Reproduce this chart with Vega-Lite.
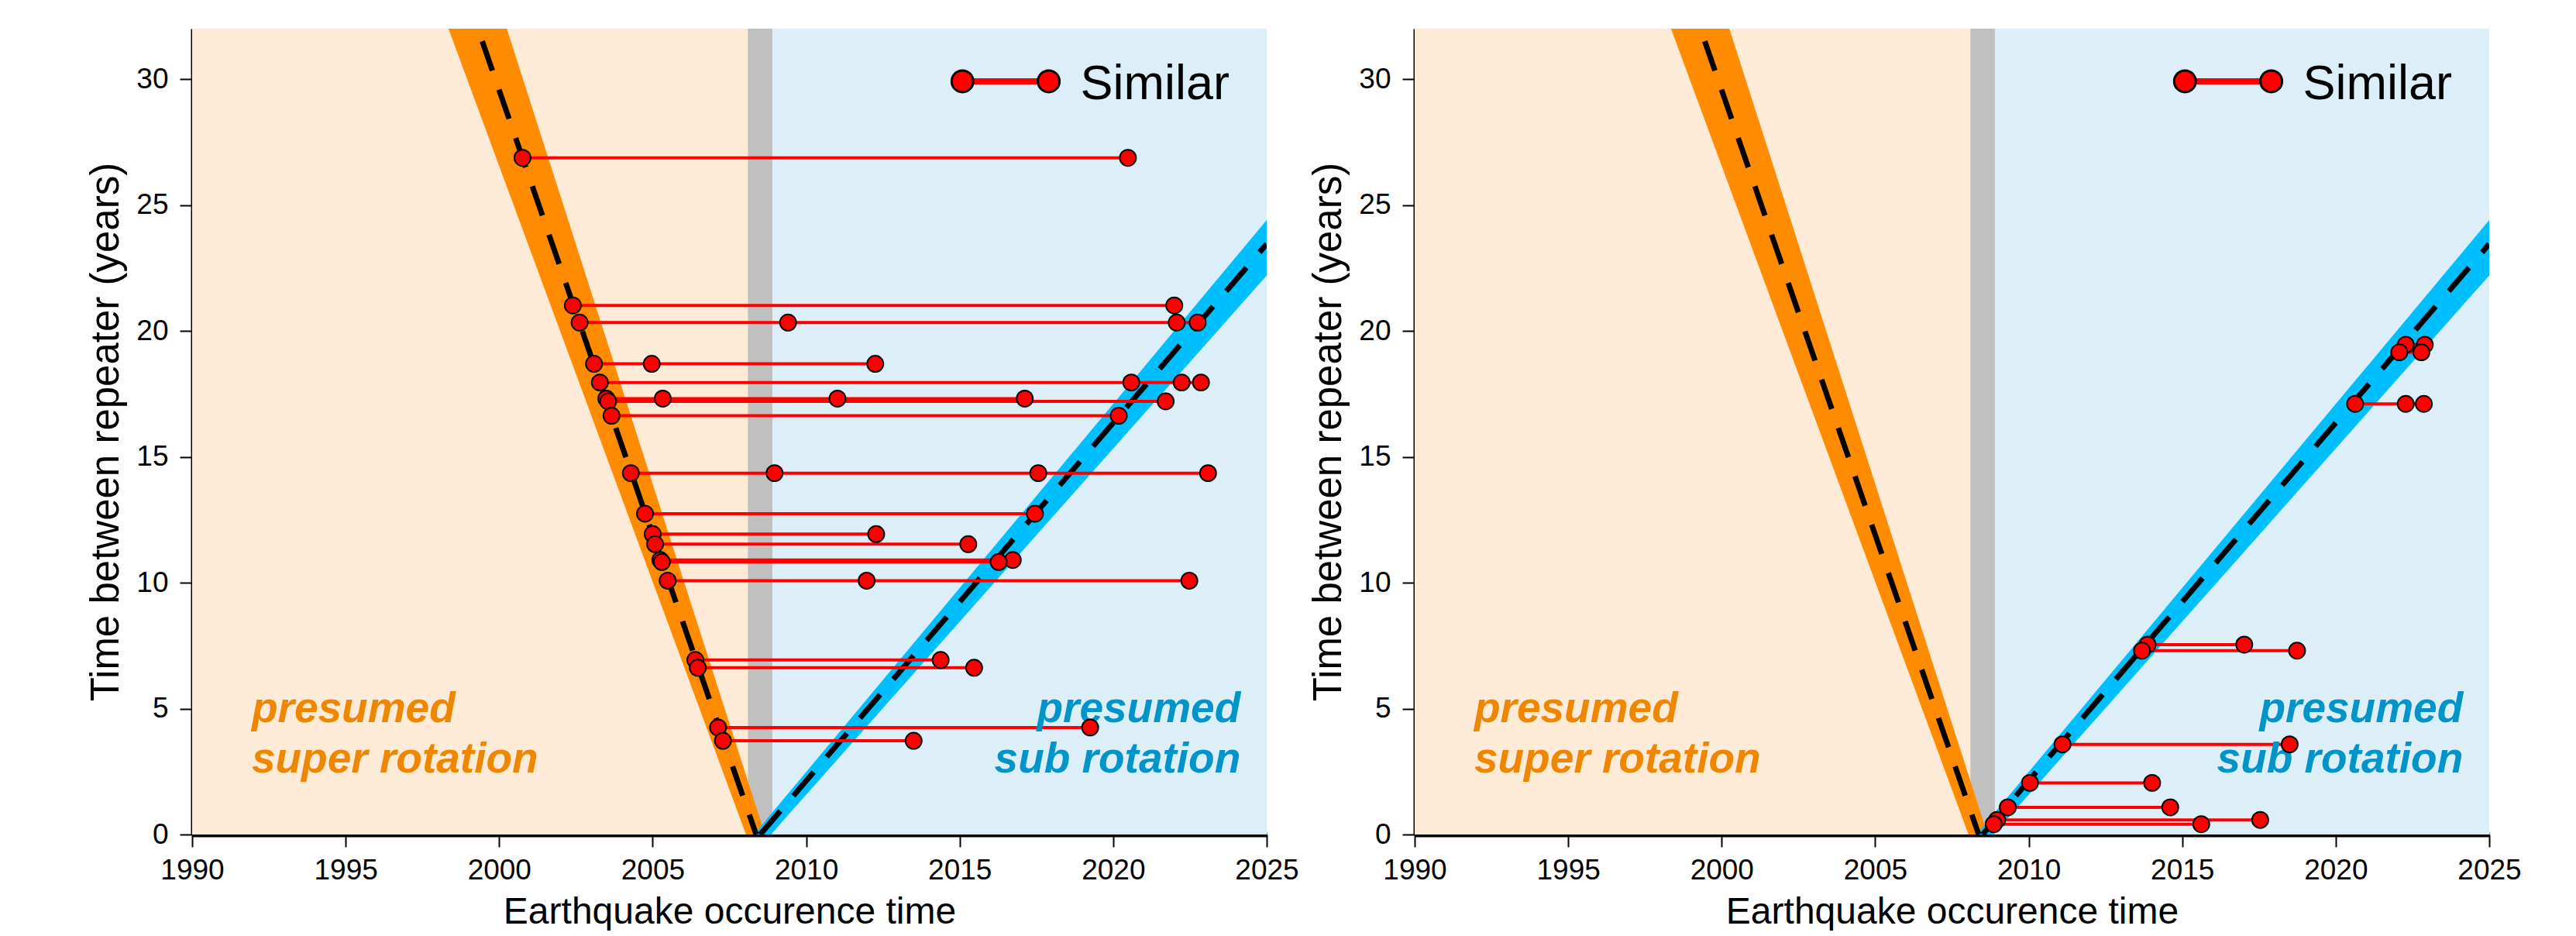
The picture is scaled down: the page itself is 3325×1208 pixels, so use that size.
{
  "$schema": "https://vega.github.io/schema/vega-lite/v6.json",
  "background": "white",
  "autosize": {"type": "pad"},
  "padding": {"left": 111, "top": 37, "right": 0, "bottom": 0},
  "bounds": "flush",
  "spacing": 191,
  "config": {
    "view": {"stroke": null},
    "font": "Liberation Sans",
    "axis": {
      "labelFont": "Liberation Sans", "titleFont": "Liberation Sans",
      "labelFontSize": 37, "titleFontWeight": "normal",
      "labelColor": "black", "titleColor": "black", "domainColor": "black", "tickColor": "black",
      "tickWidth": 2, "tickSize": 16, "grid": false, "labelFlush": false, "labelOverlap": false, "format": "d"
    },
    "axisX": {"domainWidth": 6, "labelPadding": 12, "titlePadding": 12, "titleFontSize": 48},
    "axisY": {"domainWidth": 4, "labelPadding": 15, "titlePadding": 12, "titleFontSize": 51}
  },
  "datasets": {
    "zones": [
      {"zone": "super", "t": 1990, "t2": 2008.1},
      {"zone": "gap", "t": 2008.1, "t2": 2008.9},
      {"zone": "sub", "t": 2008.9, "t2": 2025}
    ],
    "bands": [
      {"band": "super", "dt": 0, "t": 2008.04, "t2": 2008.66},
      {"band": "super", "dt": 32, "t": 1998.35, "t2": 2000.25},
      {"band": "sub", "dt": 0, "t": 2008.3, "t2": 2008.85},
      {"band": "sub", "dt": 32, "t": 2030.2, "t2": 2032.13}
    ],
    "fits": [
      {"band": "super", "t": 2008.37, "dt": 0},
      {"band": "super", "t": 1999.45, "dt": 31.5},
      {"band": "sub", "t": 2008.5, "dt": 0},
      {"band": "sub", "t": 2025, "dt": 23.45}
    ],
    "events": [
      {"panel": "A", "g": "a1", "t": 2000.76, "dt": 26.87},
      {"panel": "A", "g": "a1", "t": 2020.48, "dt": 26.87},
      {"panel": "A", "g": "a2", "t": 2002.40, "dt": 21.01},
      {"panel": "A", "g": "a2", "t": 2021.99, "dt": 21.01},
      {"panel": "A", "g": "a3", "t": 2002.62, "dt": 20.33},
      {"panel": "A", "g": "a3", "t": 2009.41, "dt": 20.33},
      {"panel": "A", "g": "a3", "t": 2022.07, "dt": 20.33},
      {"panel": "A", "g": "a3", "t": 2022.75, "dt": 20.33},
      {"panel": "A", "g": "a4", "t": 2003.09, "dt": 18.69},
      {"panel": "A", "g": "a4", "t": 2004.97, "dt": 18.69},
      {"panel": "A", "g": "a4", "t": 2012.25, "dt": 18.69},
      {"panel": "A", "g": "a5", "t": 2003.28, "dt": 17.95},
      {"panel": "A", "g": "a5", "t": 2020.59, "dt": 17.95},
      {"panel": "A", "g": "a5", "t": 2022.23, "dt": 17.95},
      {"panel": "A", "g": "a5", "t": 2022.86, "dt": 17.95},
      {"panel": "A", "g": "a6", "t": 2003.49, "dt": 17.31},
      {"panel": "A", "g": "a6", "t": 2005.33, "dt": 17.31},
      {"panel": "A", "g": "a6", "t": 2011.02, "dt": 17.31},
      {"panel": "A", "g": "a6", "t": 2017.12, "dt": 17.31},
      {"panel": "A", "g": "a7", "t": 2003.55, "dt": 17.2},
      {"panel": "A", "g": "a7", "t": 2021.71, "dt": 17.2},
      {"panel": "A", "g": "a8", "t": 2003.66, "dt": 16.63},
      {"panel": "A", "g": "a8", "t": 2020.18, "dt": 16.63},
      {"panel": "A", "g": "a9", "t": 2004.29, "dt": 14.35},
      {"panel": "A", "g": "a9", "t": 2008.97, "dt": 14.35},
      {"panel": "A", "g": "a9", "t": 2017.56, "dt": 14.35},
      {"panel": "A", "g": "a9", "t": 2023.09, "dt": 14.35},
      {"panel": "A", "g": "a10", "t": 2004.75, "dt": 12.74},
      {"panel": "A", "g": "a10", "t": 2017.45, "dt": 12.74},
      {"panel": "A", "g": "a11", "t": 2005.0, "dt": 11.93},
      {"panel": "A", "g": "a11", "t": 2012.28, "dt": 11.93},
      {"panel": "A", "g": "a12", "t": 2005.08, "dt": 11.53},
      {"panel": "A", "g": "a12", "t": 2015.28, "dt": 11.53},
      {"panel": "A", "g": "a13", "t": 2005.25, "dt": 10.9},
      {"panel": "A", "g": "a13", "t": 2016.73, "dt": 10.9},
      {"panel": "A", "g": "a14", "t": 2005.3, "dt": 10.82},
      {"panel": "A", "g": "a14", "t": 2016.27, "dt": 10.82},
      {"panel": "A", "g": "a15", "t": 2005.49, "dt": 10.08},
      {"panel": "A", "g": "a15", "t": 2011.97, "dt": 10.08},
      {"panel": "A", "g": "a15", "t": 2022.48, "dt": 10.08},
      {"panel": "A", "g": "a16", "t": 2006.39, "dt": 6.93},
      {"panel": "A", "g": "a16", "t": 2014.38, "dt": 6.93},
      {"panel": "A", "g": "a17", "t": 2006.47, "dt": 6.62},
      {"panel": "A", "g": "a17", "t": 2015.47, "dt": 6.62},
      {"panel": "A", "g": "a18", "t": 2007.13, "dt": 4.25},
      {"panel": "A", "g": "a18", "t": 2019.25, "dt": 4.25},
      {"panel": "A", "g": "a19", "t": 2007.29, "dt": 3.72},
      {"panel": "A", "g": "a19", "t": 2013.5, "dt": 3.72},
      {"panel": "B", "g": "b1", "t": 2022.28, "dt": 19.45},
      {"panel": "B", "g": "b1", "t": 2022.9, "dt": 19.45},
      {"panel": "B", "g": "b2", "t": 2022.07, "dt": 19.15},
      {"panel": "B", "g": "b2", "t": 2022.79, "dt": 19.15},
      {"panel": "B", "g": "b3", "t": 2020.63, "dt": 17.1},
      {"panel": "B", "g": "b3", "t": 2022.28, "dt": 17.1},
      {"panel": "B", "g": "b3", "t": 2022.87, "dt": 17.1},
      {"panel": "B", "g": "b4", "t": 2013.87, "dt": 7.54},
      {"panel": "B", "g": "b4", "t": 2017.02, "dt": 7.54},
      {"panel": "B", "g": "b5", "t": 2013.69, "dt": 7.30},
      {"panel": "B", "g": "b5", "t": 2018.74, "dt": 7.30},
      {"panel": "B", "g": "b6", "t": 2011.1, "dt": 3.58},
      {"panel": "B", "g": "b6", "t": 2018.5, "dt": 3.58},
      {"panel": "B", "g": "b7", "t": 2010.04, "dt": 2.05},
      {"panel": "B", "g": "b7", "t": 2014.02, "dt": 2.05},
      {"panel": "B", "g": "b8", "t": 2009.32, "dt": 1.08},
      {"panel": "B", "g": "b8", "t": 2014.61, "dt": 1.08},
      {"panel": "B", "g": "b9", "t": 2008.97, "dt": 0.58},
      {"panel": "B", "g": "b9", "t": 2017.54, "dt": 0.58},
      {"panel": "B", "g": "b10", "t": 2008.86, "dt": 0.41},
      {"panel": "B", "g": "b10", "t": 2015.62, "dt": 0.41}
    ],
    "notes": [
      {"side": "super", "label": "presumed", "t": 1991.94, "dt": 4.47},
      {"side": "super", "label": "super rotation", "t": 1991.94, "dt": 2.46},
      {"side": "sub", "label": "presumed", "t": 2024.15, "dt": 4.47},
      {"side": "sub", "label": "sub rotation", "t": 2024.15, "dt": 2.46}
    ],
    "key": [
      {"t": 2015.09, "dt": 29.91},
      {"t": 2017.9, "dt": 29.91}
    ],
    "keylabel": [
      {"label": "Similar", "t": 2018.93, "dt": 29.19}
    ]
  },
  "hconcat": [
    {
      "width": 1387, "height": 1040,
      "layer": [
        {"data": {"name": "zones"}, "transform": [{"filter": "datum.zone == 'super'"}],
         "mark": {"type": "rect", "color": "#FDEBD8"},
         "encoding": {"x": {"field": "t", "type": "quantitative", "scale": {"domain": [1990, 2025], "nice": false, "zero": false}, "axis": {"values": [1990, 1995, 2000, 2005, 2010, 2015, 2020, 2025], "format": "d", "labelOverlap": false}, "title": "Earthquake occurence time"}, "x2": {"field": "t2"}}},
        {"data": {"name": "zones"}, "transform": [{"filter": "datum.zone == 'gap'"}],
         "mark": {"type": "rect", "color": "#C0C0C0"},
         "encoding": {"x": {"field": "t", "type": "quantitative", "axis": {"values": [1990, 1995, 2000, 2005, 2010, 2015, 2020, 2025], "format": "d", "labelOverlap": false}, "title": "Earthquake occurence time"}, "x2": {"field": "t2"}}},
        {"data": {"name": "zones"}, "transform": [{"filter": "datum.zone == 'sub'"}],
         "mark": {"type": "rect", "color": "#DCEEF8"},
         "encoding": {"x": {"field": "t", "type": "quantitative", "axis": {"values": [1990, 1995, 2000, 2005, 2010, 2015, 2020, 2025], "format": "d", "labelOverlap": false}, "title": "Earthquake occurence time"}, "x2": {"field": "t2"}}},
        {"data": {"name": "bands"}, "transform": [{"filter": "datum.band == 'super'"}],
         "mark": {"type": "area", "orient": "horizontal", "color": "#FF8C00", "opacity": 1, "clip": true},
         "encoding": {"y": {"field": "dt", "type": "quantitative", "scale": {"domain": [0, 32], "nice": false}, "axis": {"values": [0, 5, 10, 15, 20, 25, 30], "format": "d"}, "title": "Time between repeater (years)"},
                      "x": {"field": "t", "type": "quantitative", "stack": null, "axis": {"values": [1990, 1995, 2000, 2005, 2010, 2015, 2020, 2025], "format": "d", "labelOverlap": false}, "title": "Earthquake occurence time"}, "x2": {"field": "t2"}}},
        {"data": {"name": "bands"}, "transform": [{"filter": "datum.band == 'sub'"}],
         "mark": {"type": "area", "orient": "horizontal", "color": "#00BFFF", "opacity": 1, "clip": true},
         "encoding": {"y": {"field": "dt", "type": "quantitative", "axis": {"values": [0, 5, 10, 15, 20, 25, 30], "format": "d"}, "title": "Time between repeater (years)"},
                      "x": {"field": "t", "type": "quantitative", "stack": null, "axis": {"values": [1990, 1995, 2000, 2005, 2010, 2015, 2020, 2025], "format": "d", "labelOverlap": false}, "title": "Earthquake occurence time"}, "x2": {"field": "t2"}}},
        {"data": {"name": "fits"},
         "mark": {"type": "line", "color": "black", "strokeWidth": 7, "strokeDash": [40, 26], "clip": true},
         "encoding": {"x": {"field": "t", "type": "quantitative", "axis": {"values": [1990, 1995, 2000, 2005, 2010, 2015, 2020, 2025], "format": "d", "labelOverlap": false}, "title": "Earthquake occurence time"}, "y": {"field": "dt", "type": "quantitative", "axis": {"values": [0, 5, 10, 15, 20, 25, 30], "format": "d"}, "title": "Time between repeater (years)"}, "detail": {"field": "band"}}},
        {"data": {"name": "events"}, "transform": [{"filter": "datum.panel == 'A'"}],
         "mark": {"type": "line", "color": "#FF0000", "strokeWidth": 4},
         "encoding": {"x": {"field": "t", "type": "quantitative", "axis": {"values": [1990, 1995, 2000, 2005, 2010, 2015, 2020, 2025], "format": "d", "labelOverlap": false}, "title": "Earthquake occurence time"}, "y": {"field": "dt", "type": "quantitative", "axis": {"values": [0, 5, 10, 15, 20, 25, 30], "format": "d"}, "title": "Time between repeater (years)"}, "detail": {"field": "g"}}},
        {"data": {"name": "notes"}, "transform": [{"filter": "datum.side == 'super'"}],
         "mark": {"type": "text", "align": "left", "baseline": "alphabetic", "font": "Liberation Sans", "fontSize": 55, "fontWeight": "bold", "fontStyle": "italic", "color": "#EE8600"},
         "encoding": {"x": {"field": "t", "type": "quantitative", "axis": {"values": [1990, 1995, 2000, 2005, 2010, 2015, 2020, 2025], "format": "d", "labelOverlap": false}, "title": "Earthquake occurence time"}, "y": {"field": "dt", "type": "quantitative", "axis": {"values": [0, 5, 10, 15, 20, 25, 30], "format": "d"}, "title": "Time between repeater (years)"}, "text": {"field": "label"}}},
        {"data": {"name": "notes"}, "transform": [{"filter": "datum.side == 'sub'"}],
         "mark": {"type": "text", "align": "right", "baseline": "alphabetic", "font": "Liberation Sans", "fontSize": 55, "fontWeight": "bold", "fontStyle": "italic", "color": "#0094C9"},
         "encoding": {"x": {"field": "t", "type": "quantitative", "axis": {"values": [1990, 1995, 2000, 2005, 2010, 2015, 2020, 2025], "format": "d", "labelOverlap": false}, "title": "Earthquake occurence time"}, "y": {"field": "dt", "type": "quantitative", "axis": {"values": [0, 5, 10, 15, 20, 25, 30], "format": "d"}, "title": "Time between repeater (years)"}, "text": {"field": "label"}}},
        {"data": {"name": "events"}, "transform": [{"filter": "datum.panel == 'A'"}],
         "mark": {"type": "point", "shape": "circle", "filled": true, "fill": "#FF0000", "stroke": "black", "strokeWidth": 2, "size": 440, "opacity": 1},
         "encoding": {"x": {"field": "t", "type": "quantitative", "axis": {"values": [1990, 1995, 2000, 2005, 2010, 2015, 2020, 2025], "format": "d", "labelOverlap": false}, "title": "Earthquake occurence time"}, "y": {"field": "dt", "type": "quantitative", "axis": {"values": [0, 5, 10, 15, 20, 25, 30], "format": "d"}, "title": "Time between repeater (years)"}}},
        {"data": {"name": "key"},
         "mark": {"type": "line", "color": "#FF0000", "strokeWidth": 8},
         "encoding": {"x": {"field": "t", "type": "quantitative", "axis": {"values": [1990, 1995, 2000, 2005, 2010, 2015, 2020, 2025], "format": "d", "labelOverlap": false}, "title": "Earthquake occurence time"}, "y": {"field": "dt", "type": "quantitative", "axis": {"values": [0, 5, 10, 15, 20, 25, 30], "format": "d"}, "title": "Time between repeater (years)"}}},
        {"data": {"name": "key"},
         "mark": {"type": "point", "shape": "circle", "filled": true, "fill": "#FF0000", "stroke": "black", "strokeWidth": 3, "size": 780, "opacity": 1},
         "encoding": {"x": {"field": "t", "type": "quantitative", "axis": {"values": [1990, 1995, 2000, 2005, 2010, 2015, 2020, 2025], "format": "d", "labelOverlap": false}, "title": "Earthquake occurence time"}, "y": {"field": "dt", "type": "quantitative", "axis": {"values": [0, 5, 10, 15, 20, 25, 30], "format": "d"}, "title": "Time between repeater (years)"}}},
        {"data": {"name": "keylabel"},
         "mark": {"type": "text", "align": "left", "baseline": "alphabetic", "font": "Liberation Sans", "fontSize": 63, "color": "black"},
         "encoding": {"x": {"field": "t", "type": "quantitative", "axis": {"values": [1990, 1995, 2000, 2005, 2010, 2015, 2020, 2025], "format": "d", "labelOverlap": false}, "title": "Earthquake occurence time"}, "y": {"field": "dt", "type": "quantitative", "axis": {"values": [0, 5, 10, 15, 20, 25, 30], "format": "d"}, "title": "Time between repeater (years)"}, "text": {"field": "label"}}}
      ]
    },
    {
      "width": 1387, "height": 1040,
      "layer": [
        {"data": {"name": "zones"}, "transform": [{"filter": "datum.zone == 'super'"}],
         "mark": {"type": "rect", "color": "#FDEBD8"},
         "encoding": {"x": {"field": "t", "type": "quantitative", "scale": {"domain": [1990, 2025], "nice": false, "zero": false}, "axis": {"values": [1990, 1995, 2000, 2005, 2010, 2015, 2020, 2025], "format": "d", "labelOverlap": false}, "title": "Earthquake occurence time"}, "x2": {"field": "t2"}}},
        {"data": {"name": "zones"}, "transform": [{"filter": "datum.zone == 'gap'"}],
         "mark": {"type": "rect", "color": "#C0C0C0"},
         "encoding": {"x": {"field": "t", "type": "quantitative", "axis": {"values": [1990, 1995, 2000, 2005, 2010, 2015, 2020, 2025], "format": "d", "labelOverlap": false}, "title": "Earthquake occurence time"}, "x2": {"field": "t2"}}},
        {"data": {"name": "zones"}, "transform": [{"filter": "datum.zone == 'sub'"}],
         "mark": {"type": "rect", "color": "#DCEEF8"},
         "encoding": {"x": {"field": "t", "type": "quantitative", "axis": {"values": [1990, 1995, 2000, 2005, 2010, 2015, 2020, 2025], "format": "d", "labelOverlap": false}, "title": "Earthquake occurence time"}, "x2": {"field": "t2"}}},
        {"data": {"name": "bands"}, "transform": [{"filter": "datum.band == 'super'"}],
         "mark": {"type": "area", "orient": "horizontal", "color": "#FF8C00", "opacity": 1, "clip": true},
         "encoding": {"y": {"field": "dt", "type": "quantitative", "scale": {"domain": [0, 32], "nice": false}, "axis": {"values": [0, 5, 10, 15, 20, 25, 30], "format": "d"}, "title": "Time between repeater (years)"},
                      "x": {"field": "t", "type": "quantitative", "stack": null, "axis": {"values": [1990, 1995, 2000, 2005, 2010, 2015, 2020, 2025], "format": "d", "labelOverlap": false}, "title": "Earthquake occurence time"}, "x2": {"field": "t2"}}},
        {"data": {"name": "bands"}, "transform": [{"filter": "datum.band == 'sub'"}],
         "mark": {"type": "area", "orient": "horizontal", "color": "#00BFFF", "opacity": 1, "clip": true},
         "encoding": {"y": {"field": "dt", "type": "quantitative", "axis": {"values": [0, 5, 10, 15, 20, 25, 30], "format": "d"}, "title": "Time between repeater (years)"},
                      "x": {"field": "t", "type": "quantitative", "stack": null, "axis": {"values": [1990, 1995, 2000, 2005, 2010, 2015, 2020, 2025], "format": "d", "labelOverlap": false}, "title": "Earthquake occurence time"}, "x2": {"field": "t2"}}},
        {"data": {"name": "fits"},
         "mark": {"type": "line", "color": "black", "strokeWidth": 7, "strokeDash": [40, 26], "clip": true},
         "encoding": {"x": {"field": "t", "type": "quantitative", "axis": {"values": [1990, 1995, 2000, 2005, 2010, 2015, 2020, 2025], "format": "d", "labelOverlap": false}, "title": "Earthquake occurence time"}, "y": {"field": "dt", "type": "quantitative", "axis": {"values": [0, 5, 10, 15, 20, 25, 30], "format": "d"}, "title": "Time between repeater (years)"}, "detail": {"field": "band"}}},
        {"data": {"name": "events"}, "transform": [{"filter": "datum.panel == 'B'"}],
         "mark": {"type": "line", "color": "#FF0000", "strokeWidth": 4},
         "encoding": {"x": {"field": "t", "type": "quantitative", "axis": {"values": [1990, 1995, 2000, 2005, 2010, 2015, 2020, 2025], "format": "d", "labelOverlap": false}, "title": "Earthquake occurence time"}, "y": {"field": "dt", "type": "quantitative", "axis": {"values": [0, 5, 10, 15, 20, 25, 30], "format": "d"}, "title": "Time between repeater (years)"}, "detail": {"field": "g"}}},
        {"data": {"name": "notes"}, "transform": [{"filter": "datum.side == 'super'"}],
         "mark": {"type": "text", "align": "left", "baseline": "alphabetic", "font": "Liberation Sans", "fontSize": 55, "fontWeight": "bold", "fontStyle": "italic", "color": "#EE8600"},
         "encoding": {"x": {"field": "t", "type": "quantitative", "axis": {"values": [1990, 1995, 2000, 2005, 2010, 2015, 2020, 2025], "format": "d", "labelOverlap": false}, "title": "Earthquake occurence time"}, "y": {"field": "dt", "type": "quantitative", "axis": {"values": [0, 5, 10, 15, 20, 25, 30], "format": "d"}, "title": "Time between repeater (years)"}, "text": {"field": "label"}}},
        {"data": {"name": "notes"}, "transform": [{"filter": "datum.side == 'sub'"}],
         "mark": {"type": "text", "align": "right", "baseline": "alphabetic", "font": "Liberation Sans", "fontSize": 55, "fontWeight": "bold", "fontStyle": "italic", "color": "#0094C9"},
         "encoding": {"x": {"field": "t", "type": "quantitative", "axis": {"values": [1990, 1995, 2000, 2005, 2010, 2015, 2020, 2025], "format": "d", "labelOverlap": false}, "title": "Earthquake occurence time"}, "y": {"field": "dt", "type": "quantitative", "axis": {"values": [0, 5, 10, 15, 20, 25, 30], "format": "d"}, "title": "Time between repeater (years)"}, "text": {"field": "label"}}},
        {"data": {"name": "events"}, "transform": [{"filter": "datum.panel == 'B'"}],
         "mark": {"type": "point", "shape": "circle", "filled": true, "fill": "#FF0000", "stroke": "black", "strokeWidth": 2, "size": 440, "opacity": 1},
         "encoding": {"x": {"field": "t", "type": "quantitative", "axis": {"values": [1990, 1995, 2000, 2005, 2010, 2015, 2020, 2025], "format": "d", "labelOverlap": false}, "title": "Earthquake occurence time"}, "y": {"field": "dt", "type": "quantitative", "axis": {"values": [0, 5, 10, 15, 20, 25, 30], "format": "d"}, "title": "Time between repeater (years)"}}},
        {"data": {"name": "key"},
         "mark": {"type": "line", "color": "#FF0000", "strokeWidth": 8},
         "encoding": {"x": {"field": "t", "type": "quantitative", "axis": {"values": [1990, 1995, 2000, 2005, 2010, 2015, 2020, 2025], "format": "d", "labelOverlap": false}, "title": "Earthquake occurence time"}, "y": {"field": "dt", "type": "quantitative", "axis": {"values": [0, 5, 10, 15, 20, 25, 30], "format": "d"}, "title": "Time between repeater (years)"}}},
        {"data": {"name": "key"},
         "mark": {"type": "point", "shape": "circle", "filled": true, "fill": "#FF0000", "stroke": "black", "strokeWidth": 3, "size": 780, "opacity": 1},
         "encoding": {"x": {"field": "t", "type": "quantitative", "axis": {"values": [1990, 1995, 2000, 2005, 2010, 2015, 2020, 2025], "format": "d", "labelOverlap": false}, "title": "Earthquake occurence time"}, "y": {"field": "dt", "type": "quantitative", "axis": {"values": [0, 5, 10, 15, 20, 25, 30], "format": "d"}, "title": "Time between repeater (years)"}}},
        {"data": {"name": "keylabel"},
         "mark": {"type": "text", "align": "left", "baseline": "alphabetic", "font": "Liberation Sans", "fontSize": 63, "color": "black"},
         "encoding": {"x": {"field": "t", "type": "quantitative", "axis": {"values": [1990, 1995, 2000, 2005, 2010, 2015, 2020, 2025], "format": "d", "labelOverlap": false}, "title": "Earthquake occurence time"}, "y": {"field": "dt", "type": "quantitative", "axis": {"values": [0, 5, 10, 15, 20, 25, 30], "format": "d"}, "title": "Time between repeater (years)"}, "text": {"field": "label"}}}
      ]
    }
  ]
}
